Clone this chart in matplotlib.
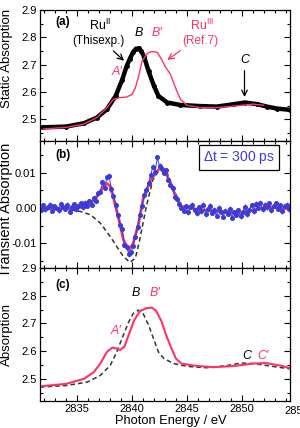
import numpy as np
import matplotlib.pyplot as plt
from matplotlib.ticker import MultipleLocator

plt.rcParams['font.family'] = ['Liberation Sans', 'DejaVu Sans']
plt.rcParams['mathtext.fontset'] = 'custom'
plt.rcParams['mathtext.rm'] = 'Liberation Sans'

PINK = '#ff3366'
BLUE = '#3b3bd9'

# (a) static spectra
e_ru2 = [2831.9, 2834.0, 2835.6, 2836.8, 2837.7, 2838.5, 2839.1, 2839.5, 2839.8, 2840.1,
         2840.35, 2840.6, 2840.85, 2841.1, 2841.5, 2842.0, 2842.4, 2843.2, 2844.4, 2846.2,
         2847.7, 2849.3, 2850.3, 2851.4, 2852.3, 2853.2, 2854.4]
a_ru2 = [2.470, 2.473, 2.485, 2.506, 2.536, 2.585, 2.645, 2.694, 2.722, 2.746,
         2.758, 2.759, 2.748, 2.728, 2.676, 2.621, 2.585, 2.561, 2.552, 2.548,
         2.546, 2.555, 2.561, 2.555, 2.546, 2.539, 2.534]
e_ru3 = [2831.9, 2834.0, 2835.6, 2836.8, 2837.7, 2838.3, 2838.9, 2839.5, 2840.0, 2840.3,
         2840.6, 2840.9, 2841.4, 2841.8, 2842.3, 2842.7, 2843.0, 2843.5, 2843.9, 2844.4,
         2845.0, 2846.2, 2847.7, 2849.3, 2851.0, 2852.0]
a_ru3 = [2.464, 2.470, 2.482, 2.506, 2.542, 2.573, 2.579, 2.581, 2.591, 2.615,
         2.658, 2.712, 2.742, 2.748, 2.745, 2.718, 2.694, 2.664, 2.621, 2.573,
         2.551, 2.542, 2.542, 2.548, 2.555, 2.551]

# (b) transient absorption, dt = 300 ps
e_tr = np.linspace(2831.7, 2854.3, 114)
tr_data = np.array([
    -0.5, 0.8, -0.3, 0.2, 1.0, -0.8, 0.5, 0.1, -0.6, 1.2, 0.3, -0.2, 0.9, -1.0, 0.4, 1.1, -0.4, 0.6, 1.3,
    0.2, 1.5, 0.6, 1.9, 1.0, 2.8, 2.0, 4.2,
    4.6, 7.3, 5.8, 8.8, 9.2, 5.5, 3.5,
    1.0, -2.0, -4.8, -6.0, -10.5,
    -11.0, -13.2, -12.6, -10.8, -8.2,
    -5.5, -2.0, 0.6, 3.8, 5.2,
    7.0, 9.5, 11.8, 10.2, 14.5, 12.0, 11.0, 10.0,
    10.8, 8.0, 6.5, 5.8, 3.0, 2.6, 1.2, 0.0,
    -0.8, 0.5, -1.2, 0.3, 0.9, -0.6, -1.5, 0.2, -0.9, 1.0, -1.8, -0.3, 0.6, -1.4, -0.5, -2.2, 0.1,
    -1.0, -2.5, -0.8, -1.6, -0.2, -2.8, -1.2, -2.0, -0.6, -2.4, -1.1, 0.4, -1.8, -0.5, 0.8, -0.9,
    1.2, 0.0, 1.5, -0.4, 0.9, 0.2, 1.3, -0.7, 0.6, 1.4, -0.2, 0.8, -0.9, 0.5, 1.0, -0.3]) * 1e-3
tr_err = 0.0007
e_fit = [2831.6, 2834.0, 2835.3, 2836.2, 2836.9, 2837.4, 2837.7, 2838.0, 2838.3, 2838.8,
         2839.2, 2839.7, 2840.1, 2840.6, 2841.0, 2841.7, 2842.6, 2843.0, 2843.5, 2844.1,
         2844.5, 2845.6, 2846.8, 2848.4, 2849.6, 2850.5, 2851.7, 2852.6, 2853.5, 2854.4]
tr_fit = np.array([0.0, -0.2, 0.2, 1.2, 3.8, 6.2, 7.0, 6.2, 2.9, -3.3,
                   -9.0, -12.1, -10.0, -4.3, 2.4, 8.1, 11.7, 10.5, 7.1, 2.4,
                   0.5, -0.2, -0.7, -1.2, -1.6, -1.0, 0.0, 0.3, 0.0, -0.3]) * 1e-3
e_ref = [2831.6, 2834.0, 2835.3, 2836.2, 2837.1, 2838.0, 2838.6, 2839.2, 2839.8, 2840.3,
         2840.7, 2841.3, 2841.9, 2842.6, 2843.2, 2843.8, 2844.5, 2845.6, 2846.8, 2848.4,
         2849.6, 2850.5, 2851.7, 2852.6, 2853.5, 2854.4]
tr_ref = np.array([0.0, -0.3, -1.0, -1.9, -4.3, -8.1, -11.0, -13.8, -15.5, -14.3,
                   -9.0, 0.5, 8.1, 11.4, 10.0, 5.2, 0.5, -0.2, -0.7, -1.2,
                   -1.6, -1.0, 0.0, 0.3, 0.0, -0.3]) * 1e-3

# (c) absorption
e_c3 = [2831.6, 2834.0, 2835.6, 2836.5, 2837.1, 2837.7, 2838.2, 2838.6, 2838.9, 2839.3,
        2839.7, 2840.2, 2840.7, 2841.3, 2841.8, 2842.2, 2842.7, 2843.1, 2843.6, 2844.0,
        2844.5, 2845.6, 2847.4, 2849.2, 2851.0, 2852.2, 2853.5, 2854.4]
a_c3 = [2.473, 2.482, 2.500, 2.524, 2.555, 2.597, 2.613, 2.609, 2.604, 2.616,
        2.660, 2.712, 2.744, 2.755, 2.757, 2.745, 2.706, 2.658, 2.609, 2.573,
        2.555, 2.548, 2.542, 2.546, 2.555, 2.557, 2.548, 2.539]
e_c2 = [2831.6, 2834.0, 2835.9, 2837.1, 2838.0, 2838.6, 2839.2, 2839.7, 2840.1, 2840.6,
        2841.0, 2841.5, 2842.0, 2842.4, 2842.9, 2843.8, 2845.0, 2846.8, 2848.7, 2849.9,
        2851.1, 2852.3, 2853.5, 2854.4]
a_c2 = [2.470, 2.476, 2.488, 2.512, 2.548, 2.597, 2.658, 2.706, 2.736, 2.748,
        2.736, 2.694, 2.640, 2.597, 2.573, 2.555, 2.545, 2.540, 2.548, 2.557,
        2.555, 2.548, 2.541, 2.536]

W, H = 300, 428
fig = plt.figure(figsize=(3.0, 4.28), dpi=100)
left, width = 40 / W, 250 / W
ax_a = fig.add_axes([left, 1 - 141 / H, width, 131 / H])
ax_b = fig.add_axes([left, 1 - 268 / H, width, 127 / H])
ax_c = fig.add_axes([left, 1 - 401 / H, width, 133 / H])

xlo, xhi = 2831.6, 2854.4
for ax in (ax_a, ax_b, ax_c):
    ax.set_xlim(xlo, xhi)
    ax.xaxis.set_major_locator(MultipleLocator(5))
    ax.xaxis.set_minor_locator(MultipleLocator(1))
    ax.tick_params(which='both', direction='in', top=True, right=True, width=0.8,
                   labelsize=8, pad=2.5)
    ax.tick_params(which='major', length=4)
    ax.tick_params(which='minor', length=2)
    for s in ax.spines.values():
        s.set_linewidth(0.9)

for ax in (ax_a, ax_c):
    ax.set_ylim(2.42, 2.9)
    ax.yaxis.set_minor_locator(MultipleLocator(0.05))
    ax.set_yticks([2.5, 2.6, 2.7, 2.8, 2.9])
    ax.set_yticklabels(['2.5', '2.6', '2.7', '2.8', '2.9'])
ax_a.tick_params(labelbottom=False)
ax_b.tick_params(labelbottom=False)

# panel (a)
ax_a.plot(e_ru2, a_ru2, color='black', lw=3.2, marker='o', ms=2.5)
ax_a.plot(e_ru3, a_ru3, color=PINK, lw=1.0)
ax_a.text(0.06, 0.91, '(a)', transform=ax_a.transAxes, fontsize=8.5, fontweight='bold',
          va='center')
ax_a.text(2837.1, 2.842, r'Ru$^{\rm II}$', ha='center', va='center', fontsize=9)
ax_a.text(2836.9, 2.787, '(Thisexp.)', ha='center', va='center', fontsize=8.5)
ax_a.annotate('', xy=(2839.45, 2.707), xytext=(2838.1, 2.757),
              arrowprops=dict(arrowstyle='->', color='black', lw=0.9))
ax_a.text(2840.65, 2.816, 'B', ha='center', va='center', fontsize=9, style='italic')
ax_a.text(2842.3, 2.816, "B'", ha='center', va='center', fontsize=9, style='italic', color=PINK)
ax_a.text(2838.64, 2.671, "A'", ha='center', va='center', fontsize=9, style='italic', color=PINK)
ax_a.text(2846.4, 2.842, r'Ru$^{\rm III}$', ha='center', va='center', fontsize=9, color=PINK)
ax_a.text(2846.2, 2.787, '(Ref.7)', ha='center', va='center', fontsize=8.5, color=PINK)
ax_a.annotate('', xy=(2843.0, 2.711), xytext=(2844.6, 2.757),
              arrowprops=dict(arrowstyle='->', color=PINK, lw=0.9))
ax_a.text(2850.25, 2.715, 'C', ha='center', va='center', fontsize=9, style='italic')
ax_a.annotate('', xy=(2850.25, 2.571), xytext=(2850.25, 2.688),
              arrowprops=dict(arrowstyle='->', color='black', lw=0.9))

# panel (b)
ax_b.set_ylim(-0.0171, 0.0191)
ax_b.yaxis.set_minor_locator(MultipleLocator(0.005))
ax_b.set_yticks([-0.01, 0.0, 0.01])
ax_b.set_yticklabels(['-0.01', '0.00', '0.01'])
ax_b.plot(e_ref, tr_ref, color='#333333', lw=1.1, ls=(0, (3, 2)))
ax_b.errorbar(e_tr, tr_data, yerr=tr_err, color=BLUE, lw=0.7, marker='o', ms=2.6,
              elinewidth=0.6, capsize=0)
ax_b.plot(e_fit, tr_fit, color=PINK, lw=2.0)
ax_b.text(0.06, 0.89, '(b)', transform=ax_b.transAxes, fontsize=8.5, fontweight='bold',
          va='center')
ax_b.text(0.94, 0.87, r'$\Delta$t = 300 ps', transform=ax_b.transAxes, ha='right',
          va='center', fontsize=10, color=BLUE,
          bbox=dict(boxstyle='square,pad=0.3', fc='white', ec='black', lw=0.9))

# panel (c)
ax_c.plot(e_c2, a_c2, color='#333333', lw=1.1, ls=(0, (3, 2)))
ax_c.plot(e_c3, a_c3, color=PINK, lw=1.5)
ax_c.text(0.06, 0.87, '(c)', transform=ax_c.transAxes, fontsize=8.5, fontweight='bold',
          va='center')
ax_c.text(2838.55, 2.671, "A'", ha='center', va='center', fontsize=9, style='italic', color=PINK)
ax_c.text(2840.37, 2.809, 'B', ha='center', va='center', fontsize=9, style='italic')
ax_c.text(2842.1, 2.809, "B'", ha='center', va='center', fontsize=9, style='italic', color=PINK)
ax_c.text(2850.43, 2.584, 'C', ha='center', va='center', fontsize=9, style='italic')
ax_c.text(2851.9, 2.584, "C'", ha='center', va='center', fontsize=9, style='italic', color=PINK)
# last tick label sits past the right frame and is cut by the image edge
ax_c.text(2855, -0.035, '2855', transform=ax_c.get_xaxis_transform(), ha='center', va='top',
          fontsize=8, clip_on=False)

fig.text(7 / W, 1 - 58 / H, 'Static Absorption', rotation=90, ha='center', va='center', fontsize=9.5)
fig.text(6 / W, 1 - 210 / H, 'Transient Absorption', rotation=90, ha='center', va='center', fontsize=10.5)
fig.text(7 / W, 1 - 335 / H, 'Absorption', rotation=90, ha='center', va='center', fontsize=9.5)
fig.text(171 / W, 1 - 421 / H, 'Photon Energy / eV', ha='center', va='center', fontsize=9.3)

fig.savefig('out.png', dpi=100)
